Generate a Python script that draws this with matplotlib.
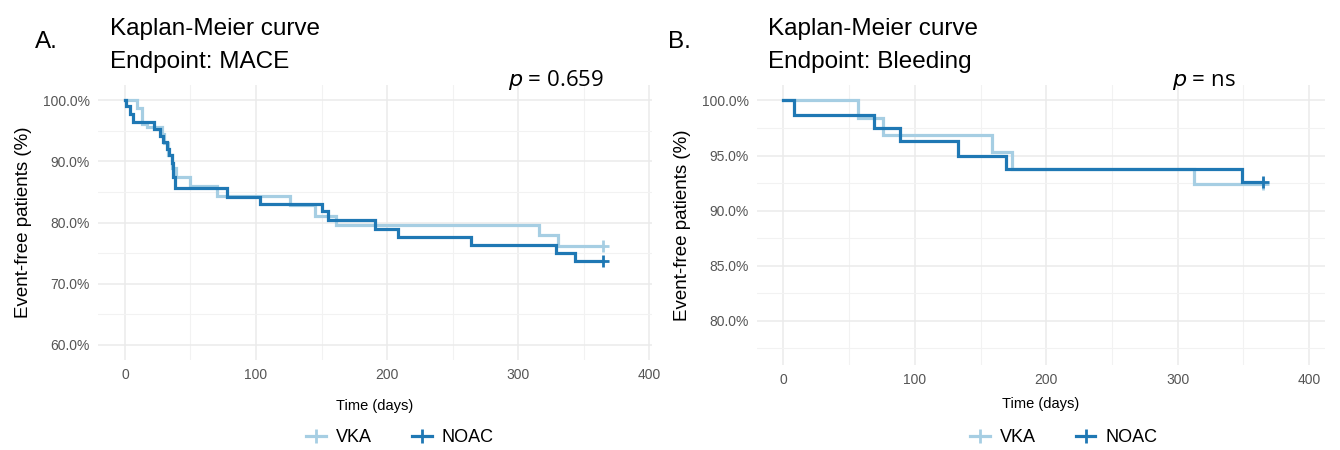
import matplotlib
matplotlib.use("Agg")
import matplotlib.pyplot as plt
from matplotlib.lines import Line2D
from matplotlib.ticker import FuncFormatter, MultipleLocator

# ---- Data ----
# Panel A: MACE
mace_vka_t = [0, 9, 13, 17, 28, 30, 33, 36, 39, 50, 70, 126, 145, 161, 316, 330, 365]
mace_vka_s = [100, 98.7, 96.2, 95.6, 94.5, 93.0, 91.0, 89.0, 87.5, 85.9, 84.3, 82.9, 81.0, 79.6, 78.0, 76.2, 76.2]
mace_noac_t = [0, 1, 4, 6, 22, 27, 29, 32, 34, 36, 37, 38, 78, 103, 150, 155, 191, 208, 264, 329, 343, 365]
mace_noac_s = [100, 99.0, 97.7, 96.4, 95.3, 94.2, 93.1, 92.1, 91.0, 89.8, 87.4, 85.7, 84.2, 83.0, 81.9, 80.4,
               79.0, 77.7, 76.3, 75.0, 73.7, 73.7]
# Panel B: Bleeding
bleed_vka_t = [0, 57, 76, 159, 174, 312, 365]
bleed_vka_s = [100, 98.4, 96.9, 95.3, 93.8, 92.4, 92.4]
bleed_noac_t = [0, 8, 69, 89, 133, 169, 349, 365]
bleed_noac_s = [100, 98.7, 97.5, 96.3, 95.0, 93.8, 92.6, 92.6]

groups = ["VKA", "NOAC"]
x_ticks = [0, 100, 200, 300, 400]
yticks_a = [60, 70, 80, 90, 100]
yticks_b = [80, 85, 90, 95, 100]

c_vka = "#A6CEE3"
c_noac = "#1F78B4"

W, H = 1340, 450
fig = plt.figure(figsize=(W / 100, H / 100), dpi=100)
fig.patch.set_facecolor("white")

def px_axes(l, r, t, b):
    return fig.add_axes([l / W, 1 - b / H, (r - l) / W, (b - t) / H])

axA = px_axes(98, 652, 85, 360)
axB = px_axes(757, 1325, 85, 365)

pct = FuncFormatter(lambda v, p: f"{v:.1f}%")

def style(ax, yt, ylim, xlim, minor_y, xpad):
    ax.set_facecolor("white")
    for s in ax.spines.values():
        s.set_visible(False)
    ax.set_xlim(*xlim)
    ax.set_ylim(*ylim)
    ax.set_xticks(x_ticks)
    ax.set_yticks(yt)
    ax.xaxis.set_minor_locator(MultipleLocator(50))
    ax.yaxis.set_minor_locator(MultipleLocator(minor_y))
    ax.yaxis.set_major_formatter(pct)
    ax.grid(True, which="major", color="#ebebeb", lw=1.1)
    ax.grid(True, which="minor", color="#f2f2f2", lw=0.8)
    ax.set_axisbelow(True)
    ax.tick_params(which="both", length=0, labelsize=10, labelcolor="#555555", pad=6)
    for lab in ax.get_xticklabels() + ax.get_yticklabels():
        lab.set_fontfamily("Liberation Sans")
    ax.set_xlabel("Time (days)", fontsize=10.5, family="Liberation Sans", labelpad=xpad)
    ax.set_ylabel("Event-free patients (%)", fontsize=13.5, family="Liberation Sans", labelpad=8)

def km(ax, t, s, color, lw):
    ax.step(t, s, where="post", color=color, lw=lw, solid_joinstyle="miter")
    ax.plot([t[-1]], [s[-1]], marker="+", color=color, ms=9, mew=2)

km(axA, mace_vka_t, mace_vka_s, c_vka, 2.3)
km(axA, mace_noac_t, mace_noac_s, c_noac, 2.3)
km(axB, bleed_vka_t, bleed_vka_s, c_vka, 2.3)
km(axB, bleed_noac_t, bleed_noac_s, c_noac, 2.3)

style(axA, yticks_a, (57.5, 102.5), (-20.5, 402), 5, 12)
style(axB, yticks_b, (76.0, 101.4), (-20, 412), 2.5, 7)

for ax, yb, xc in ((axA, -(438 - 360) / 275, 0.545), (axB, -(438 - 365) / 280, 0.54)):
    handles = [Line2D([], [], color=c, lw=2.3, marker="+", ms=10, mew=2) for c in (c_vka, c_noac)]
    ax.legend(handles, groups, loc="center", bbox_to_anchor=(xc, yb), ncol=2,
              frameon=False, prop={"family": "Liberation Sans", "size": 13},
              handlelength=1.1, columnspacing=2.2, handletextpad=0.55, borderaxespad=0, borderpad=0)

def ftext(x, y, s, **kw):
    fig.text(x / W, 1 - y / H, s, va="baseline", **kw)

tf = dict(fontsize=17.5, family="Liberation Sans")
ftext(35, 48, "A.", **tf)
ftext(110, 35, "Kaplan-Meier curve", **tf)
ftext(110, 68, "Endpoint: MACE", **tf)
ftext(668, 48, "B.", **tf)
ftext(768, 35, "Kaplan-Meier curve", **tf)
ftext(768, 68, "Endpoint: Bleeding", **tf)

pf = dict(fontsize=16, family="Open Sans")
ftext(508, 86, r"$\it{p}$ = 0.659", **pf)
ftext(1172, 86, r"$\it{p}$ = ns", **pf)

fig.savefig("out.png", dpi=100, facecolor="white")
